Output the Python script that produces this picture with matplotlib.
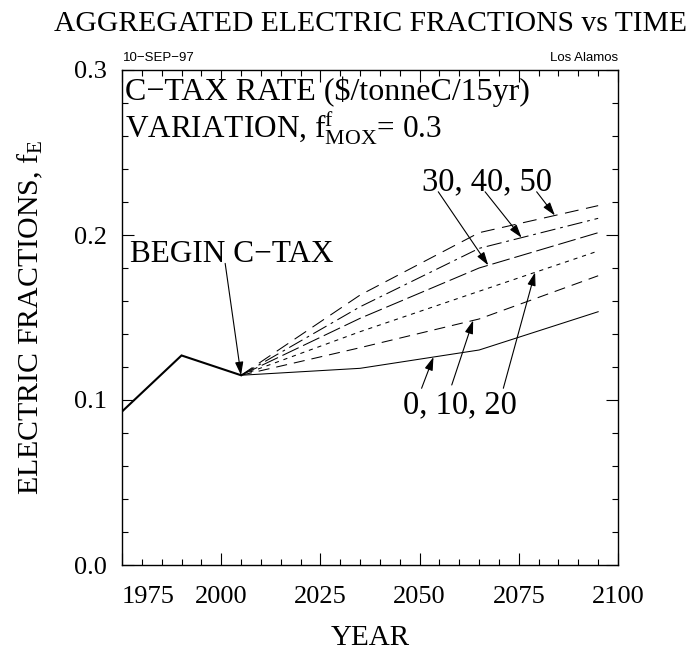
import numpy as np
import matplotlib
matplotlib.use("Agg")
import matplotlib.pyplot as plt
from matplotlib.ticker import MultipleLocator

# ---------------- data ----------------
hist_years = [1975, 1990, 2005]
hist_values = [0.093, 0.127, 0.115]

scen_years = [2005, 2035, 2065, 2095]
tax_rates = [0, 10, 20, 30, 40, 50]
val_tax0 = [0.115, 0.1192, 0.1303, 0.1535]
val_tax10 = [0.115, 0.1317, 0.1491, 0.1753]
val_tax20 = [0.115, 0.1414, 0.1659, 0.1903]
val_tax30 = [0.115, 0.1495, 0.1800, 0.2014]
val_tax40 = [0.115, 0.1565, 0.1919, 0.2101]
val_tax50 = [0.115, 0.1636, 0.2014, 0.2178]

xtick_values = [1975, 2000, 2025, 2050, 2075, 2100]
xtick_labels = ["1975", "2000", "2025", "2050", "2075", "2100"]
ytick_values = [0.0, 0.1, 0.2, 0.3]
ytick_labels = ["0.0", "0.1", "0.2", "0.3"]

title = "AGGREGATED ELECTRIC FRACTIONS vs TIME"
xlabel = "YEAR"
ylabel = r"ELECTRIC FRACTIONS, $\mathrm{f}_{\mathrm{E}}$"
box_line1 = "C\u2212TAX RATE ($/tonneC/15yr)"
box_line2 = r"VARIATION, $\mathrm{f}^{\mathrm{f}}_{\mathrm{MOX}}$= 0.3"
date_text = "10\u2212SEP\u221297"
site_text = "Los Alamos"

# ---------------- style ----------------
SERIF = "Liberation Serif"
plt.rcParams["font.family"] = [SERIF, "DejaVu Serif"]
plt.rcParams["mathtext.fontset"] = "custom"
plt.rcParams["mathtext.rm"] = SERIF
plt.rcParams["mathtext.it"] = SERIF + ":italic"
plt.rcParams["mathtext.bf"] = SERIF + ":bold"
plt.rcParams["lines.scale_dashes"] = False

fig = plt.figure(figsize=(6.91, 6.52), dpi=100)
ax = fig.add_axes([122 / 691, 1 - 565 / 652, 496 / 691, 495 / 652])

series = [val_tax0, val_tax10, val_tax20, val_tax30, val_tax40, val_tax50]
styles = ["-", (0, (8, 5)), (0, (3, 3.5)), (0, (13, 3.5)),
          (0, (11, 3.5, 2, 3.5)), (0, (10, 5.5))]
for vals, ls in zip(series, styles):
    ax.plot(scen_years, vals, color="black", lw=0.75, linestyle=ls)
ax.plot(hist_years, hist_values, color="black", lw=1.5, solid_joinstyle="miter")

ax.set_xlim(1975, 2100)
ax.set_ylim(0.0, 0.3)

ax.set_xticks(xtick_values)
ax.set_xticklabels(xtick_labels)
ax.set_yticks(ytick_values)
ax.set_yticklabels(ytick_labels)
ax.xaxis.set_minor_locator(MultipleLocator(5))
ax.yaxis.set_minor_locator(MultipleLocator(0.02))
ax.tick_params(which="both", direction="in", top=True, right=True, width=0.8,
               colors="black")
ax.tick_params(which="major", length=8.5)
ax.tick_params(which="minor", length=4.3)
ax.tick_params(axis="x", which="major", pad=15, labelsize=19)
ax.tick_params(axis="y", which="major", pad=11, labelsize=19)
ax.get_xticklabels()[0].set_horizontalalignment("left")
for sp in ax.spines.values():
    sp.set_linewidth(1.0)

ax.set_xlabel(xlabel, fontsize=21, va="baseline")
ax.xaxis.set_label_coords(0.5, -0.1616)
ax.set_ylabel(ylabel, fontsize=21.5, va="center")
ax.yaxis.set_label_coords(-0.185, 0.5)

fig.text(371 / 691, 1 - 31 / 652, title, ha="center", va="baseline", fontsize=21.3)

# small header texts
ax.text(0.002, 1.012, date_text, transform=ax.transAxes, ha="left", va="bottom",
        fontsize=9.5, family="Liberation Sans")
ax.text(1.0, 1.012, site_text, transform=ax.transAxes, ha="right", va="bottom",
        fontsize=9.5, family="Liberation Sans")

# text box
ax.text(0.006, 0.940, box_line1, transform=ax.transAxes, ha="left",
        va="baseline", fontsize=23)
ax.text(0.006, 0.864, box_line2, transform=ax.transAxes, ha="left",
        va="baseline", fontsize=22.5)

# annotations
arrow_kw = dict(arrowstyle="-|>,head_length=0.8,head_width=0.25", lw=0.8,
                color="black", shrinkA=0, shrinkB=0, mutation_scale=10)

def tip(vals, year):
    return (year, float(np.interp(year, scen_years, vals)))

ax.text(2002.7, 0.1835, "BEGIN C\u2212TAX", ha="center", va="baseline", fontsize=22.5)
ax.annotate("", xy=(scen_years[0], hist_values[-1]), xytext=(2001.0, 0.1828),
            arrowprops=arrow_kw)

ax.text(2066.9, 0.2273, "30, 40, 50", ha="center", va="baseline", fontsize=23.5)
ax.annotate("", xy=tip(val_tax30, 2067.3), xytext=(2054.7, 0.2262), arrowprops=arrow_kw)
ax.annotate("", xy=tip(val_tax40, 2075.7), xytext=(2066.5, 0.2262), arrowprops=arrow_kw)
ax.annotate("", xy=tip(val_tax50, 2084.1), xytext=(2079.5, 0.2262), arrowprops=arrow_kw)

ax.text(2060.2, 0.0921, "0, 10, 20", ha="center", va="baseline", fontsize=23.5)
ax.annotate("", xy=tip(val_tax0, 2053.5), xytext=(2050.5, 0.1071), arrowprops=arrow_kw)
ax.annotate("", xy=tip(val_tax10, 2063.5), xytext=(2058.1, 0.1091), arrowprops=arrow_kw)
ax.annotate("", xy=tip(val_tax20, 2079.1), xytext=(2071.1, 0.1071), arrowprops=arrow_kw)

fig.savefig("out.png", dpi=100)
